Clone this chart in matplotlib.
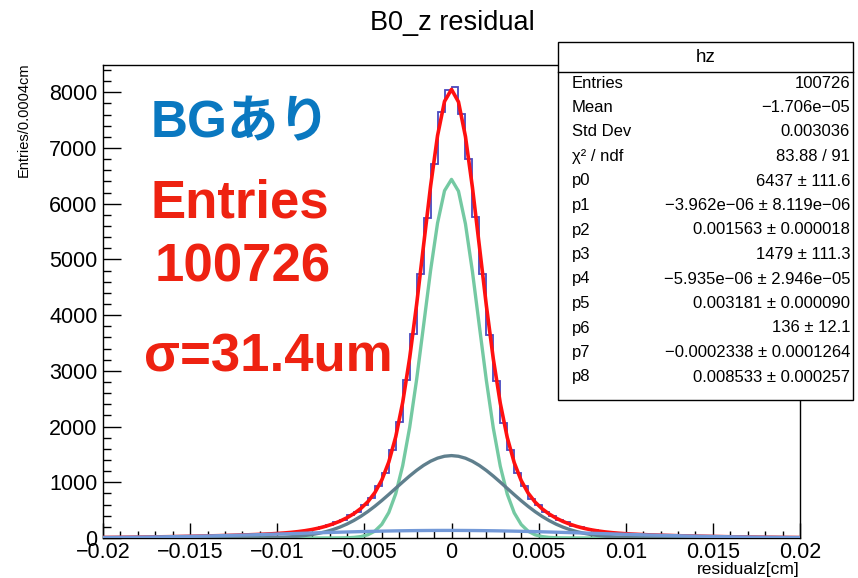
import numpy as np
import matplotlib
matplotlib.use("Agg")
import matplotlib.pyplot as plt
from matplotlib.patches import Rectangle
from matplotlib.lines import Line2D
from matplotlib.ticker import MultipleLocator

plt.rcParams['font.family'] = ['Liberation Sans', 'Noto Sans CJK JP', 'DejaVu Sans']

# histogram: 100 bins of 0.0004 cm from -0.02 to 0.02
x_lo, x_hi, n_bins = -0.02, 0.02, 100
counts_neg = [12, 9, 14, 11, 16, 14, 19, 21, 20, 26, 24, 30, 28, 35, 33, 41, 40, 47, 46, 55,
              53, 62, 63, 74, 76, 89, 93, 110, 118, 146, 160, 201, 226, 283, 322, 405, 472, 596, 712, 930,
              1170, 1580, 2075, 2830, 3660, 4745, 5740, 6708, 7640, 8050]
counts_pos = [8100, 7605, 6798, 5760, 4730, 3650, 2820, 2070, 1580, 1165, 925, 705, 595, 465, 400, 318, 280, 220, 196, 154,
              142, 113, 106, 87, 84, 70, 69, 58, 58, 49, 50, 42, 43, 36, 37, 31, 32, 26, 27, 21,
              23, 18, 19, 15, 16, 12, 14, 10, 11, 8]

# fit parameters from the stats box (amp, mean, sigma) x3
g1 = (6437, -3.962e-06, 0.001563)
g2 = (1479, -5.935e-06, 0.003181)
g3 = (136, -0.0002338, 0.008533)

stat_names = ["Entries", "Mean", "Std Dev", "χ² / ndf", "p0", "p1", "p2", "p3", "p4", "p5", "p6", "p7", "p8"]
stat_values = ["100726", "−1.706e−05", "0.003036", "83.88 / 91", "6437 ± 111.6",
               "−3.962e−06 ± 8.119e−06", "0.001563 ± 0.000018", "1479 ± 111.3",
               "−5.935e−06 ± 2.946e−05", "0.003181 ± 0.000090", "136 ± 12.1",
               "−0.0002338 ± 0.0001264", "0.008533 ± 0.000257"]

xticks = [-0.02, -0.015, -0.01, -0.005, 0, 0.005, 0.01, 0.015, 0.02]
xtick_labels = ["−0.02", "−0.015", "−0.01", "−0.005", "0", "0.005", "0.01", "0.015", "0.02"]
yticks = [0, 1000, 2000, 3000, 4000, 5000, 6000, 7000, 8000]


def gaus(x, p):
    return p[0] * np.exp(-0.5 * ((x - p[1]) / p[2]) ** 2)


W, H = 858, 578
fig = plt.figure(figsize=(W / 100, H / 100), dpi=100)
ax = fig.add_axes([103 / W, 1 - 538 / H, 697 / W, 473 / H])

edges = np.linspace(x_lo, x_hi, n_bins + 1)
counts = np.array(counts_neg + counts_pos)
ax.stairs(counts, edges, color='#2a2ab4', lw=1.3, alpha=0.85, zorder=2)

# ROOT draws TF1 with 100 points
xs = np.linspace(x_lo, x_hi, 101)
ax.plot(xs, gaus(xs, g1) + gaus(xs, g2) + gaus(xs, g3), color='#ff1010', lw=2.6, zorder=3)
ax.plot(xs, gaus(xs, g1), color='#74c9a2', lw=2.4, zorder=4)
ax.plot(xs, gaus(xs, g2), color='#5f7f8d', lw=2.4, zorder=4)
ax.plot(xs, gaus(xs, g3), color='#7399d8', lw=2.4, zorder=5)

ax.set_xlim(x_lo, x_hi)
ax.set_ylim(0, 8490)
ax.set_xticks(xticks)
ax.set_xticklabels(xtick_labels)
ax.set_yticks(yticks)
ax.xaxis.set_minor_locator(MultipleLocator(0.001))
ax.yaxis.set_minor_locator(MultipleLocator(200))
ax.tick_params(axis='x', which='major', direction='in', length=10.5, width=1, labelsize=15.5, pad=3)
ax.tick_params(axis='x', which='minor', direction='in', length=5, width=1)
ax.tick_params(axis='y', which='major', direction='in', length=13, width=1, labelsize=15.5, pad=4)
ax.tick_params(axis='y', which='minor', direction='in', length=6, width=1)
for s in ax.spines.values():
    s.set_linewidth(1)

fig.text(452 / W, 1 - 23 / H, "B0_z residual", ha='center', va='center', fontsize=19.5)
fig.text(800 / W, 1 / H, "residualz[cm]", ha='right', va='bottom', fontsize=12.5)
fig.text(24 / W, 1 - 62 / H, "Entries/0.0004cm", ha='center', va='top', rotation=90, fontsize=10.5)

# big annotations
fig.text(151 / W, 1 - 137 / H, "BGあり", color='#0a78c0', fontsize=37, fontweight='bold', va='baseline')
fig.text(150 / W, 1 - 218 / H, "Entries", color='#ee2211', fontsize=38, fontweight='bold', va='baseline')
fig.text(155 / W, 1 - 282 / H, "100726", color='#ee2211', fontsize=38, fontweight='bold', va='baseline')
fig.text(144 / W, 1 - 372 / H, "σ=31.4um", color='#ee2211', fontsize=38, fontweight='bold', va='baseline')

# stats box
bx0, bx1, by0, by1 = 558, 853, 42, 400
fig.add_artist(Rectangle((bx0 / W, 1 - by1 / H), (bx1 - bx0) / W, (by1 - by0) / H,
                         transform=fig.transFigure, facecolor='white', edgecolor='black', lw=1, zorder=10))
fig.add_artist(Line2D([bx0 / W, bx1 / W], [1 - 72 / H, 1 - 72 / H], transform=fig.transFigure,
                      color='black', lw=1, zorder=11))
fig.text((bx0 + bx1) / 2 / W, 1 - 57 / H, "hz", ha='center', va='center', fontsize=13.5, zorder=12)
for i, (nm, val) in enumerate(zip(stat_names, stat_values)):
    y = 1 - (83 + i * 24.5) / H
    fig.text(572 / W, y, nm, ha='left', va='center', fontsize=12, zorder=12)
    fig.text(850 / W, y, val, ha='right', va='center', fontsize=12, zorder=12)

fig.savefig("out.png", dpi=100)
